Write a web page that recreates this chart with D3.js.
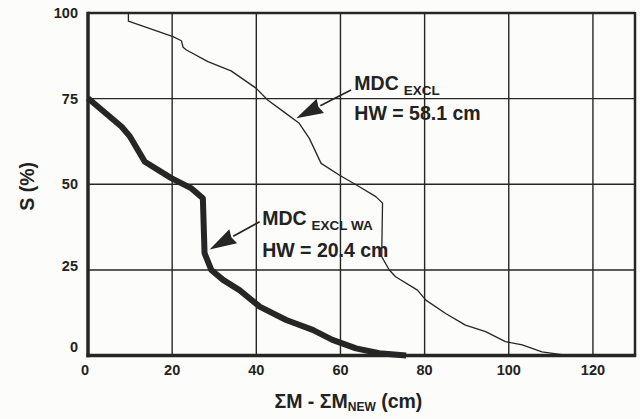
<!DOCTYPE html>
<html>
<head>
<meta charset="utf-8">
<script src="https://cdn.jsdelivr.net/npm/d3@7"></script>
<style>
  html, body { margin: 0; padding: 0; background: #fcfcfa; }
  svg { display: block; }
  text { font-family: "Liberation Sans", Arial, Helvetica, sans-serif; font-weight: bold; fill: #222; }
</style>
</head>
<body>
<svg id="chart" width="640" height="419"></svg>
<script>
// ---- data ----
const xTicks = [0, 20, 40, 60, 80, 100, 120];
const yTicks = [0, 25, 50, 75, 100];

// MDC_EXCL (thin line): [ΣM - ΣM_NEW (cm), S (%)]
const mdcExclX = [9.6, 9.6, 20.2, 22.2, 22.6, 23.4, 28.5, 34.0, 40.0, 42.7, 46.7, 50.2, 52.6, 55.4, 59.7, 64.5, 68.4, 70.0, 69.8, 71.6, 73.1, 78.3, 80.3, 85.0, 89.7, 94.5, 99.2, 103.2, 107.9, 112.6, 115.0];
const mdcExclS = [100, 97.6, 93.1, 91.9, 90.0, 89.2, 85.8, 83.1, 78.0, 74.6, 71.0, 67.8, 63.4, 56.1, 52.7, 49.3, 46.4, 44.5, 28.9, 25.0, 23.0, 19.1, 16.2, 12.3, 8.9, 7.0, 4.1, 3.1, 1.1, 0.3, 0];

// MDC_EXCL WA (thick line)
const mdcWaX = [0, 8.0, 10.0, 13.5, 19.8, 24.6, 27.3, 27.7, 29.3, 32.1, 36.0, 40.8, 47.1, 53.4, 58.1, 63.7, 69.2, 75.6];
const mdcWaS = [75.1, 66.8, 63.9, 56.6, 51.8, 48.8, 45.9, 29.9, 25.0, 22.1, 19.1, 14.3, 10.4, 7.5, 4.6, 2.1, 0.7, 0];

// annotations (data units)
const annoText = [
  { main: "MDC", sub: "EXCL", hw: "HW = 58.1 cm", x: 63.3, s: 77.6, sHw: 68.8 },
  { main: "MDC", sub: "EXCL WA", hw: "HW = 20.4 cm", x: 41.4, s: 38.1, sHw: 28.9 }
];
const arrows = [
  { x1: 62.5, s1: 77.5, x2: 49.5, s2: 69.3 },
  { x1: 40.8, s1: 39.1, x2: 28.9, s2: 31.0 }
];

// ---- layout ----
const svg = d3.select("#chart");
const m = { left: 88, top: 13, right: 5, bottom: 63.4 };
const W = 640, H = 419;
const x = d3.scaleLinear().domain([0, 130]).range([m.left, W - m.right]);
const y = d3.scaleLinear().domain([0, 100]).range([H - m.bottom, m.top]);

const ink = "#262626";

// grid
const g = svg.append("g");
g.selectAll("line.vx").data(xTicks.filter(d => d > 0)).join("line")
  .attr("x1", d => x(d)).attr("x2", d => x(d))
  .attr("y1", y(0)).attr("y2", y(100))
  .attr("stroke", ink).attr("stroke-width", 1.4);
g.selectAll("line.hy").data(yTicks.filter(d => d > 0 && d < 100)).join("line")
  .attr("x1", x(0)).attr("x2", x(130))
  .attr("y1", d => y(d)).attr("y2", d => y(d))
  .attr("stroke", ink).attr("stroke-width", 1.4);

// frame
g.append("line").attr("x1", x(0)).attr("x2", x(130)).attr("y1", y(100)).attr("y2", y(100)).attr("stroke", ink).attr("stroke-width", 2.5);
g.append("line").attr("x1", x(130)).attr("x2", x(130)).attr("y1", y(100) - 1).attr("y2", y(0)).attr("stroke", ink).attr("stroke-width", 2.5);
g.append("line").attr("x1", x(0)).attr("x2", x(0)).attr("y1", y(100) - 1.2).attr("y2", y(0) + 1.7).attr("stroke", ink).attr("stroke-width", 3.5);
g.append("line").attr("x1", x(0) - 1.7).attr("x2", x(130) + 1.2).attr("y1", y(0)).attr("y2", y(0)).attr("stroke", ink).attr("stroke-width", 3.5);

// tick labels
svg.selectAll("text.xt").data(xTicks).join("text")
  .attr("x", d => x(d) - (d === 0 ? 3 : 0)).attr("y", y(0) + 19)
  .attr("text-anchor", "middle").attr("font-size", 14.5).text(d => d);
svg.selectAll("text.yt").data(yTicks).join("text")
  .attr("x", x(0) - 10).attr("y", d => y(d) + 5 - (d === 0 ? 9 : d === 25 ? 4 : 0))
  .attr("text-anchor", "end").attr("font-size", 14.5).text(d => d);

// axis titles
const xt = svg.append("text").attr("x", (x(0) + x(130)) / 2 - 87).attr("y", 408).attr("font-size", 19.5);
xt.append("tspan").text("ΣM - ΣM");
xt.append("tspan").attr("font-size", 12).attr("dy", 3).text("NEW");
xt.append("tspan").attr("dy", -3).text(" (cm)");

svg.append("text")
  .attr("transform", `translate(34, ${y(50) + 2}) rotate(-90)`)
  .attr("text-anchor", "middle").attr("font-size", 19.5).text("S (%)");

// curves
const line = d3.line().x(d => x(d[0])).y(d => y(d[1]));
const exclPts = mdcExclX.map((v, i) => [v, mdcExclS[i]]);
const waPts = mdcWaX.map((v, i) => [v, mdcWaS[i]]);

svg.append("path").datum(exclPts).attr("d", line)
  .attr("fill", "none").attr("stroke", ink).attr("stroke-width", 1.3).attr("stroke-linejoin", "round");
svg.append("path").datum(waPts).attr("d", line)
  .attr("fill", "none").attr("stroke", ink).attr("stroke-width", 6).attr("stroke-linejoin", "round").attr("stroke-linecap", "butt");

// arrows
arrows.forEach(a => {
  const x1 = x(a.x1), y1 = y(a.s1), x2 = x(a.x2), y2 = y(a.s2);
  const ang = Math.atan2(y2 - y1, x2 - x1);
  const L = 27, Wd = 8;
  const bx = x2 - L * Math.cos(ang), by = y2 - L * Math.sin(ang);
  svg.append("line").attr("x1", x1).attr("y1", y1).attr("x2", bx).attr("y2", by)
    .attr("stroke", ink).attr("stroke-width", 1.7);
  const p1 = [bx + Wd * Math.sin(ang), by - Wd * Math.cos(ang)];
  const p2 = [bx - Wd * Math.sin(ang), by + Wd * Math.cos(ang)];
  svg.append("path").attr("d", `M${x2},${y2}L${p1[0]},${p1[1]}L${bx + 0.08 * L * Math.cos(ang)},${by + 0.08 * L * Math.sin(ang)}L${p2[0]},${p2[1]}Z`)
    .attr("fill", ink);
});

// annotation text
annoText.forEach(t => {
  const tx = svg.append("text").attr("x", x(t.x)).attr("y", y(t.s)).attr("font-size", 19.5);
  tx.append("tspan").text(t.main);
  tx.append("tspan").attr("font-size", 13.5).attr("dx", 5).attr("dy", 5).text(t.sub);
  svg.append("text").attr("x", x(t.x)).attr("y", y(t.sHw)).attr("font-size", 19.5).text(t.hw);
});
</script>
</body>
</html>
